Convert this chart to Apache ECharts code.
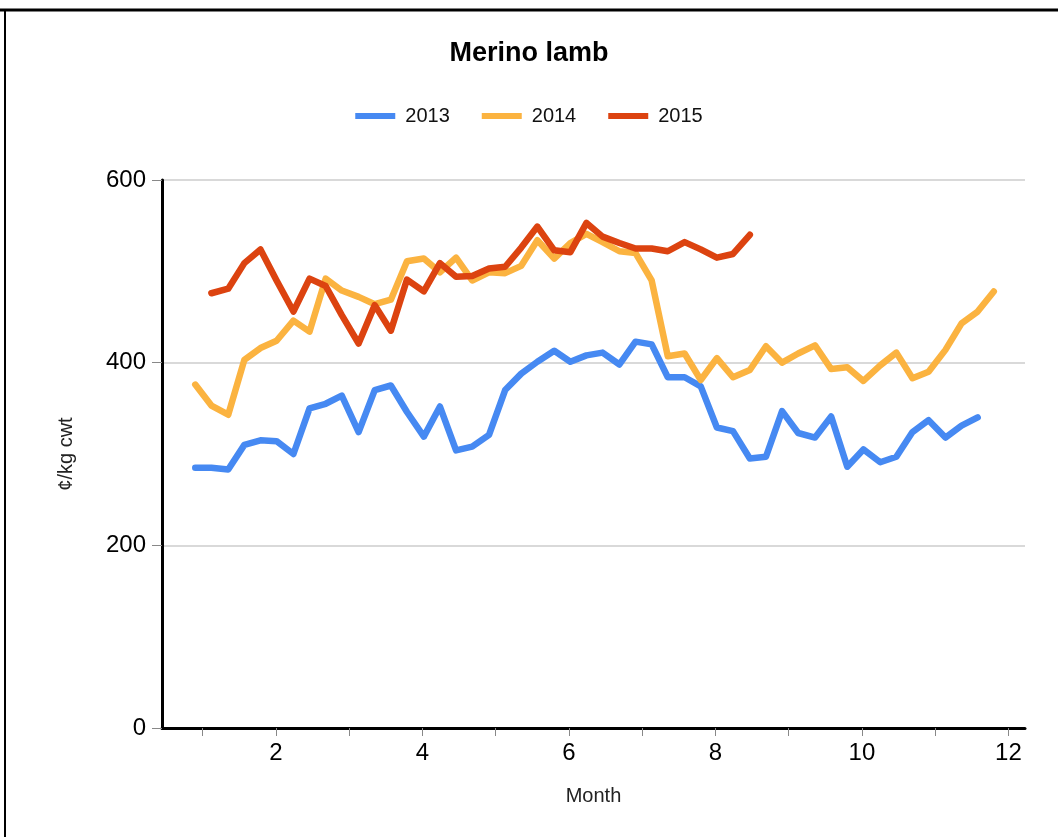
<!DOCTYPE html>
<html>
<head>
<meta charset="utf-8">
<script src="https://cdn.jsdelivr.net/npm/echarts@6/dist/echarts.min.js"></script>
<style>
html,body{margin:0;padding:0;background:#fff;}
#chart{width:1058px;height:837px;}
</style>
</head>
<body>
<div id="chart"></div>
<script>
// Month positions of the weekly observations
var monthPos = [0.90, 1.12, 1.35, 1.57, 1.79, 2.01, 2.24, 2.46, 2.68, 2.90,
  3.13, 3.35, 3.57, 3.79, 4.02, 4.24, 4.46, 4.68, 4.91, 5.13,
  5.35, 5.57, 5.80, 6.02, 6.24, 6.46, 6.69, 6.91, 7.13, 7.35,
  7.58, 7.80, 8.02, 8.24, 8.47, 8.69, 8.91, 9.13, 9.36, 9.58,
  9.80, 10.02, 10.25, 10.47, 10.69, 10.91, 11.14, 11.36, 11.58, 11.80];

var seriesNames = ['2013', '2014', '2015'];

var values2013 = [285, 285, 283, 310, 315, 314, 300, 350, 355, 364,
  324, 370, 375, 346, 319, 352, 304, 308, 321, 370,
  388, 401, 413, 401, 408, 411, 398, 423, 420, 384,
  384, 374, 329, 325, 295, 297, 347, 323, 318, 341,
  286, 305, 291, 297, 324, 337, 318, 331, 340];

var values2014 = [376, 353, 343, 403, 416, 424, 446, 434, 492, 479,
  472, 464, 469, 511, 514, 499, 515, 490, 499, 498,
  506, 534, 514, 531, 541, 532, 522, 520, 490, 407,
  410, 381, 405, 384, 392, 418, 400, 410, 419, 393,
  395, 380, 397, 411, 383, 390, 414, 443, 456, 478];

var values2015 = [null, 476, 481, 509, 524, 490, 456, 492, 484, 452,
  421, 463, 435, 491, 478, 509, 494, 495, 503, 505,
  526, 549, 523, 521, 553, 538, 531, 525, 525, 522,
  532, 524, 515, 519, 540];

var xTickValues = [1, 2, 3, 4, 5, 6, 7, 8, 9, 10, 11, 12];
var xLabelValues = [2, 4, 6, 8, 10, 12];

var colors = ['#4689F2', '#FBB340', '#DC4310'];

function pairs(vals) {
  var out = [];
  for (var i = 0; i < vals.length; i++) {
    if (vals[i] !== null) out.push([monthPos[i], vals[i]]);
  }
  return out;
}

var font = '"Liberation Sans", Arial, sans-serif';

var chart = echarts.init(document.getElementById('chart'), null, {renderer: 'canvas'});

function mkSeries(name, vals, color) {
  return {
    name: name,
    type: 'line',
    data: pairs(vals),
    showSymbol: false,
    symbol: 'none',
    color: color,
    lineStyle: {width: 6.5, color: color, cap: 'round', join: 'round'},
    emphasis: {disabled: true},
    animation: false
  };
}

chart.setOption({
  animation: false,
  backgroundColor: '#fff',
  color: colors,
  title: {
    text: 'Merino lamb',
    left: 'center',
    top: 35,
    textStyle: {fontFamily: font, fontSize: 27, fontWeight: 'bold', color: '#000'}
  },
  legend: {
    top: 101,
    left: 'center',
    icon: 'rect',
    itemWidth: 40,
    itemHeight: 6,
    itemGap: 32,
    textStyle: {fontFamily: font, fontSize: 20, color: '#111', padding: [0, 0, 0, 5]},
    data: seriesNames
  },
  grid: {left: 162, right: 33, top: 180, bottom: 109, containLabel: false},
  xAxis: {
    type: 'value',
    min: 0.446,
    max: 12.226,
    name: 'Month',
    nameLocation: 'middle',
    nameGap: 58,
    nameTextStyle: {fontFamily: font, fontSize: 20, color: '#222'},
    axisLine: {show: true, onZero: false, lineStyle: {color: '#000', width: 3}},
    axisTick: {show: true, customValues: xTickValues, length: 8, lineStyle: {color: '#888', width: 1}},
    axisLabel: {customValues: xLabelValues, fontFamily: font, fontSize: 24, color: '#000', margin: 13},
    splitLine: {show: false}
  },
  yAxis: {
    type: 'value',
    min: 0,
    max: 600,
    interval: 200,
    name: '¢/kg cwt',
    nameLocation: 'middle',
    nameGap: 86,
    nameTextStyle: {fontFamily: font, fontSize: 20, color: '#222'},
    axisLine: {show: true, lineStyle: {color: '#000', width: 3}},
    axisTick: {show: true, length: 10, lineStyle: {color: '#888', width: 1}},
    axisLabel: {fontFamily: font, fontSize: 24, color: '#000', margin: 16},
    splitLine: {show: true, lineStyle: {color: '#d9d9d9', width: 2}}
  },
  graphic: [
    {type: 'line', shape: {x1: 0, y1: 10, x2: 1058, y2: 10}, style: {stroke: '#000', lineWidth: 3}, silent: true},
    {type: 'line', shape: {x1: 5, y1: 9, x2: 5, y2: 837}, style: {stroke: '#000', lineWidth: 2}, silent: true}
  ],
  series: [
    mkSeries(seriesNames[0], values2013, colors[0]),
    mkSeries(seriesNames[1], values2014, colors[1]),
    mkSeries(seriesNames[2], values2015, colors[2])
  ]
});
</script>
</body>
</html>
